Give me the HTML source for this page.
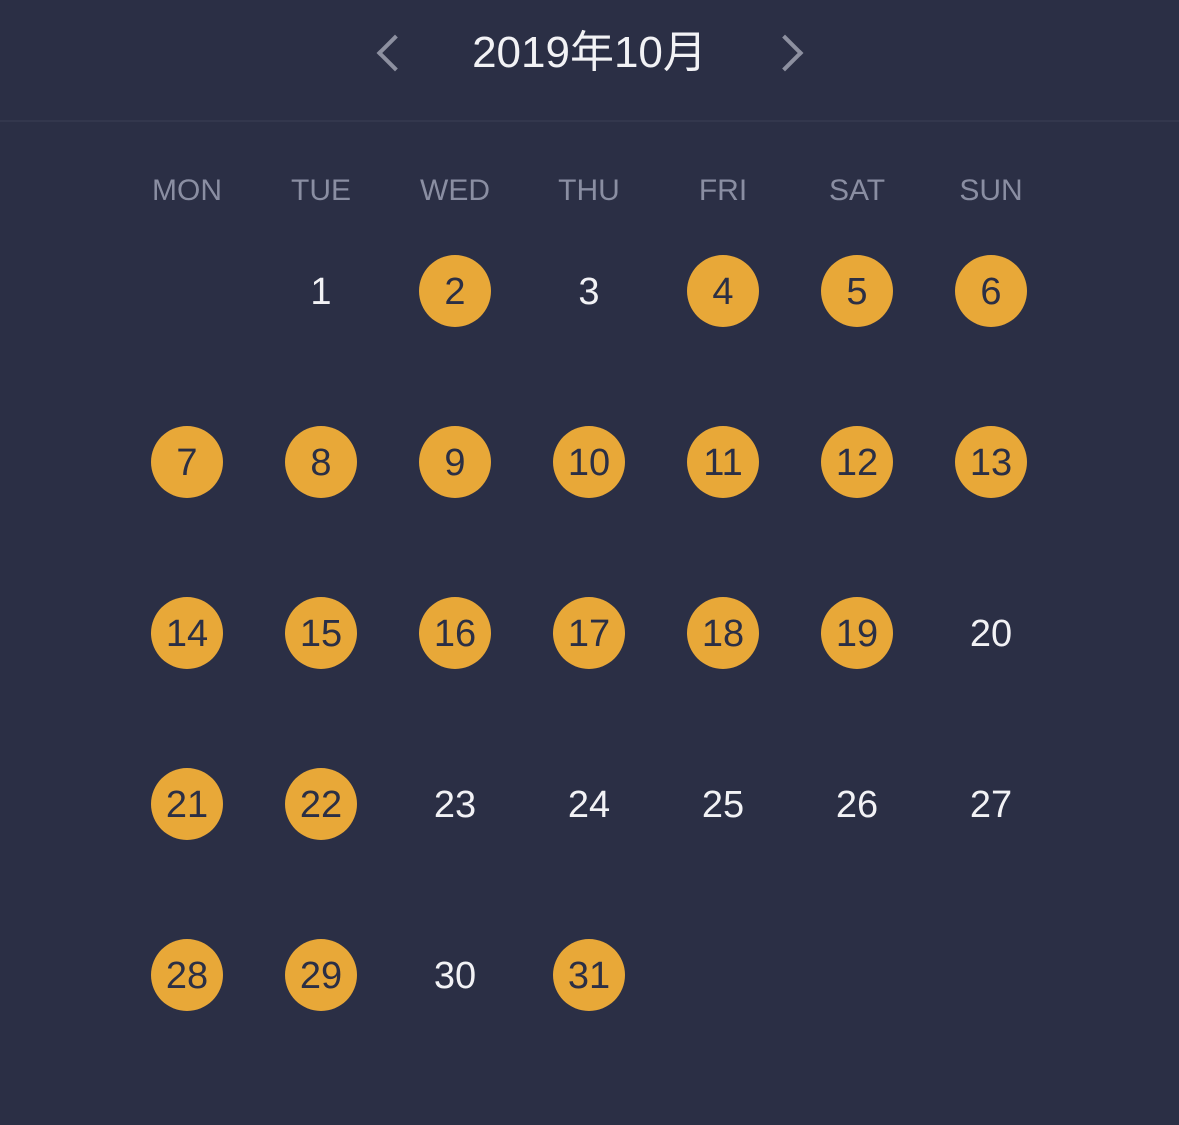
<!DOCTYPE html>
<html><head><meta charset="utf-8">
<style>
html,body{margin:0;padding:0;}
body{width:1179px;height:1125px;background:#2b2f45;position:relative;overflow:hidden;font-family:"Liberation Sans","Noto Sans CJK SC",sans-serif;}
#title{position:absolute;left:0;width:1179px;top:25px;text-align:center;font-size:44px;color:#f2f2f5;line-height:56px;}
.arrow{position:absolute;top:40px;width:22px;height:22px;border-top:4px solid #8d90a0;border-left:4px solid #8d90a0;}
#prev{left:382px;transform:rotate(-45deg);}
#next{left:772px;transform:rotate(135deg);}
#sep{position:absolute;left:0;top:120px;width:1179px;height:2px;background:#33374d;}
.wd{position:absolute;top:173px;width:120px;margin-left:-60px;text-align:center;font-size:30px;color:#8a8ea2;line-height:36px;}
.day{position:absolute;width:72px;height:72px;margin-left:-36px;margin-top:-36px;border-radius:50%;text-align:center;line-height:74px;font-size:38px;color:#f2f2f5;}
.day.on{background:#e8a838;color:#2b2f45;}
</style></head>
<body>
<div id="title">2019年10月</div>
<div id="prev" class="arrow"></div>
<div id="next" class="arrow"></div>
<div id="sep"></div>
<div id="cal"></div>
<script>
const weekdays=["MON","TUE","WED","THU","FRI","SAT","SUN"];
const daysInMonth=31;
const firstWeekday=1;
const highlighted=[2,4,5,6,7,8,9,10,11,12,13,14,15,16,17,18,19,21,22,28,29,31];
const cal=document.getElementById('cal');
const colX=i=>187+i*134;
const rowY=r=>291+r*171;
weekdays.forEach((w,i)=>{
  const el=document.createElement('div');
  el.className='wd';
  
  
  el.style.left=colX(i)+'px';
  el.textContent=w;
  cal.appendChild(el);
});
for(let d=1;d<=daysInMonth;d++){
  const idx=firstWeekday+d-1;
  const el=document.createElement('div');
  el.className='day'+(highlighted.includes(d)?' on':'');
  
  
  el.style.left=colX(idx%7)+'px';
  el.style.top=rowY(Math.floor(idx/7))+'px';
  el.textContent=d;
  cal.appendChild(el);
}
</script>
</body></html>
